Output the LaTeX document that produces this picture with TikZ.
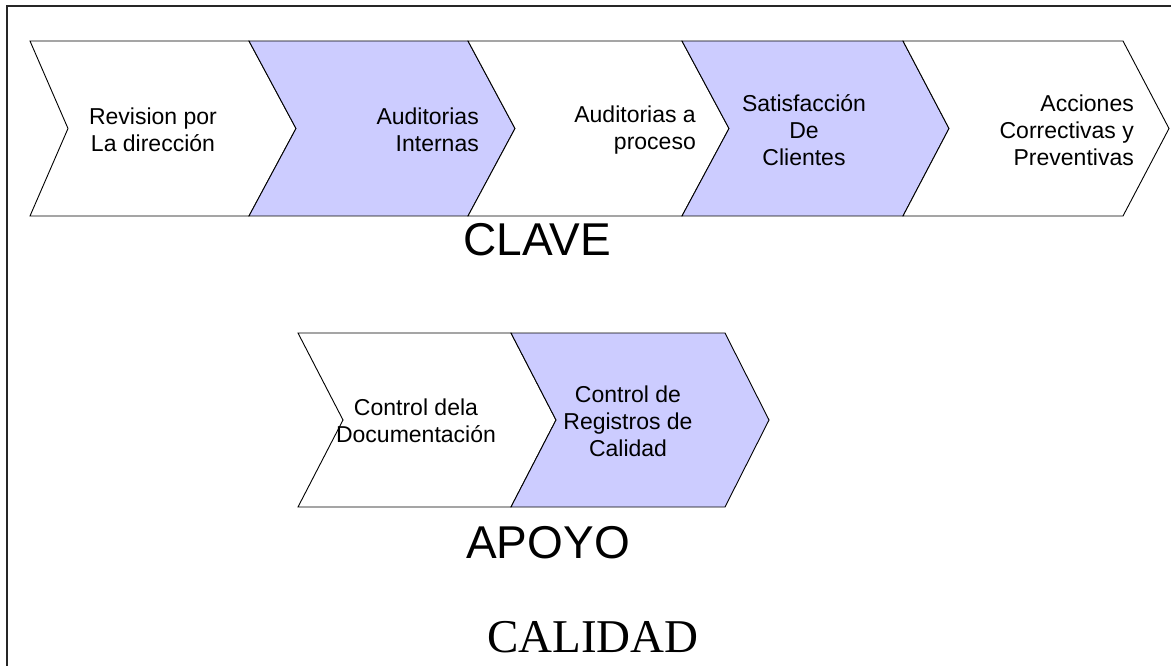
\documentclass[tikz,border=0pt]{standalone}
\usepackage{fontspec}
\setmainfont{Liberation Sans}
\newfontfamily\serifcal{Liberation Serif}
\definecolor{lavanda}{RGB}{204,204,255}
\tikzset{chev/.style={draw=black,line width=0.9pt,line join=miter},
         txt/.style={inner sep=0pt,font=\fontsize{23}{27}\selectfont},
         big/.style={inner sep=0pt,font=\fontsize{46}{50}\selectfont}}

\begin{document}
\begin{tikzpicture}[x=1pt,y=-1pt]
    \useasboundingbox (0,0) rectangle (1171,666);
    \draw[line width=1.6pt,black!85] (7,666) -- (7,6) -- (1171,6);

    % fila clave
    \filldraw[chev,fill=white] (30,41) -- (249,41) -- (296,128.5) -- (249,216) -- (30,216) -- (68,128.5) -- cycle;
    \filldraw[chev,fill=lavanda] (249,41) -- (468,41) -- (515,128.5) -- (468,216) -- (249,216) -- (296,128.5) -- cycle;
    \filldraw[chev,fill=white] (468,41) -- (682,41) -- (729,128.5) -- (682,216) -- (468,216) -- (515,128.5) -- cycle;
    \filldraw[chev,fill=lavanda] (682,41) -- (903,41) -- (949,128.5) -- (903,216) -- (682,216) -- (729,128.5) -- cycle;
    \filldraw[chev,fill=white] (903,41) -- (1123,41) -- (1169,128.5) -- (1123,216) -- (903,216) -- (949,128.5) -- cycle;

    \node[txt,align=center] (rev) at (153,130) {Revision por\\La dirección};
    \node[txt,align=right,anchor=east] (audi) at (479,130) {Auditorias\\Internas};
    \node[txt,align=right,anchor=east] (audp) at (696,130) {Auditorias a\\proceso};
    \node[txt,align=center] (sat) at (804,130) {Satisfacción\\De\\Clientes};
    \node[txt,align=right,anchor=east] (acc) at (1134,130) {Acciones\\Correctivas y\\Preventivas};
    \node[big] (clave) at (537,240) {CLAVE};

    % fila apoyo
    \filldraw[chev,fill=white] (298,333) -- (511,333) -- (556,420) -- (511,507) -- (298,507) -- (343,420) -- cycle;
    \filldraw[chev,fill=lavanda] (511,333) -- (725,333) -- (769,420) -- (725,507) -- (511,507) -- (556,420) -- cycle;

    \node[txt,align=center] (doc) at (416,421) {Control dela\\Documentación};
    \node[txt,align=center] (reg) at (628,421) {Control de\\Registros de\\Calidad};
    \node[big] (apoyo) at (548,543) {APOYO};

    \node[inner sep=0pt,font=\serifcal\fontsize{47}{50}\selectfont] (cal) at (593,637) {CALIDAD};
\end{tikzpicture}
\end{document}
